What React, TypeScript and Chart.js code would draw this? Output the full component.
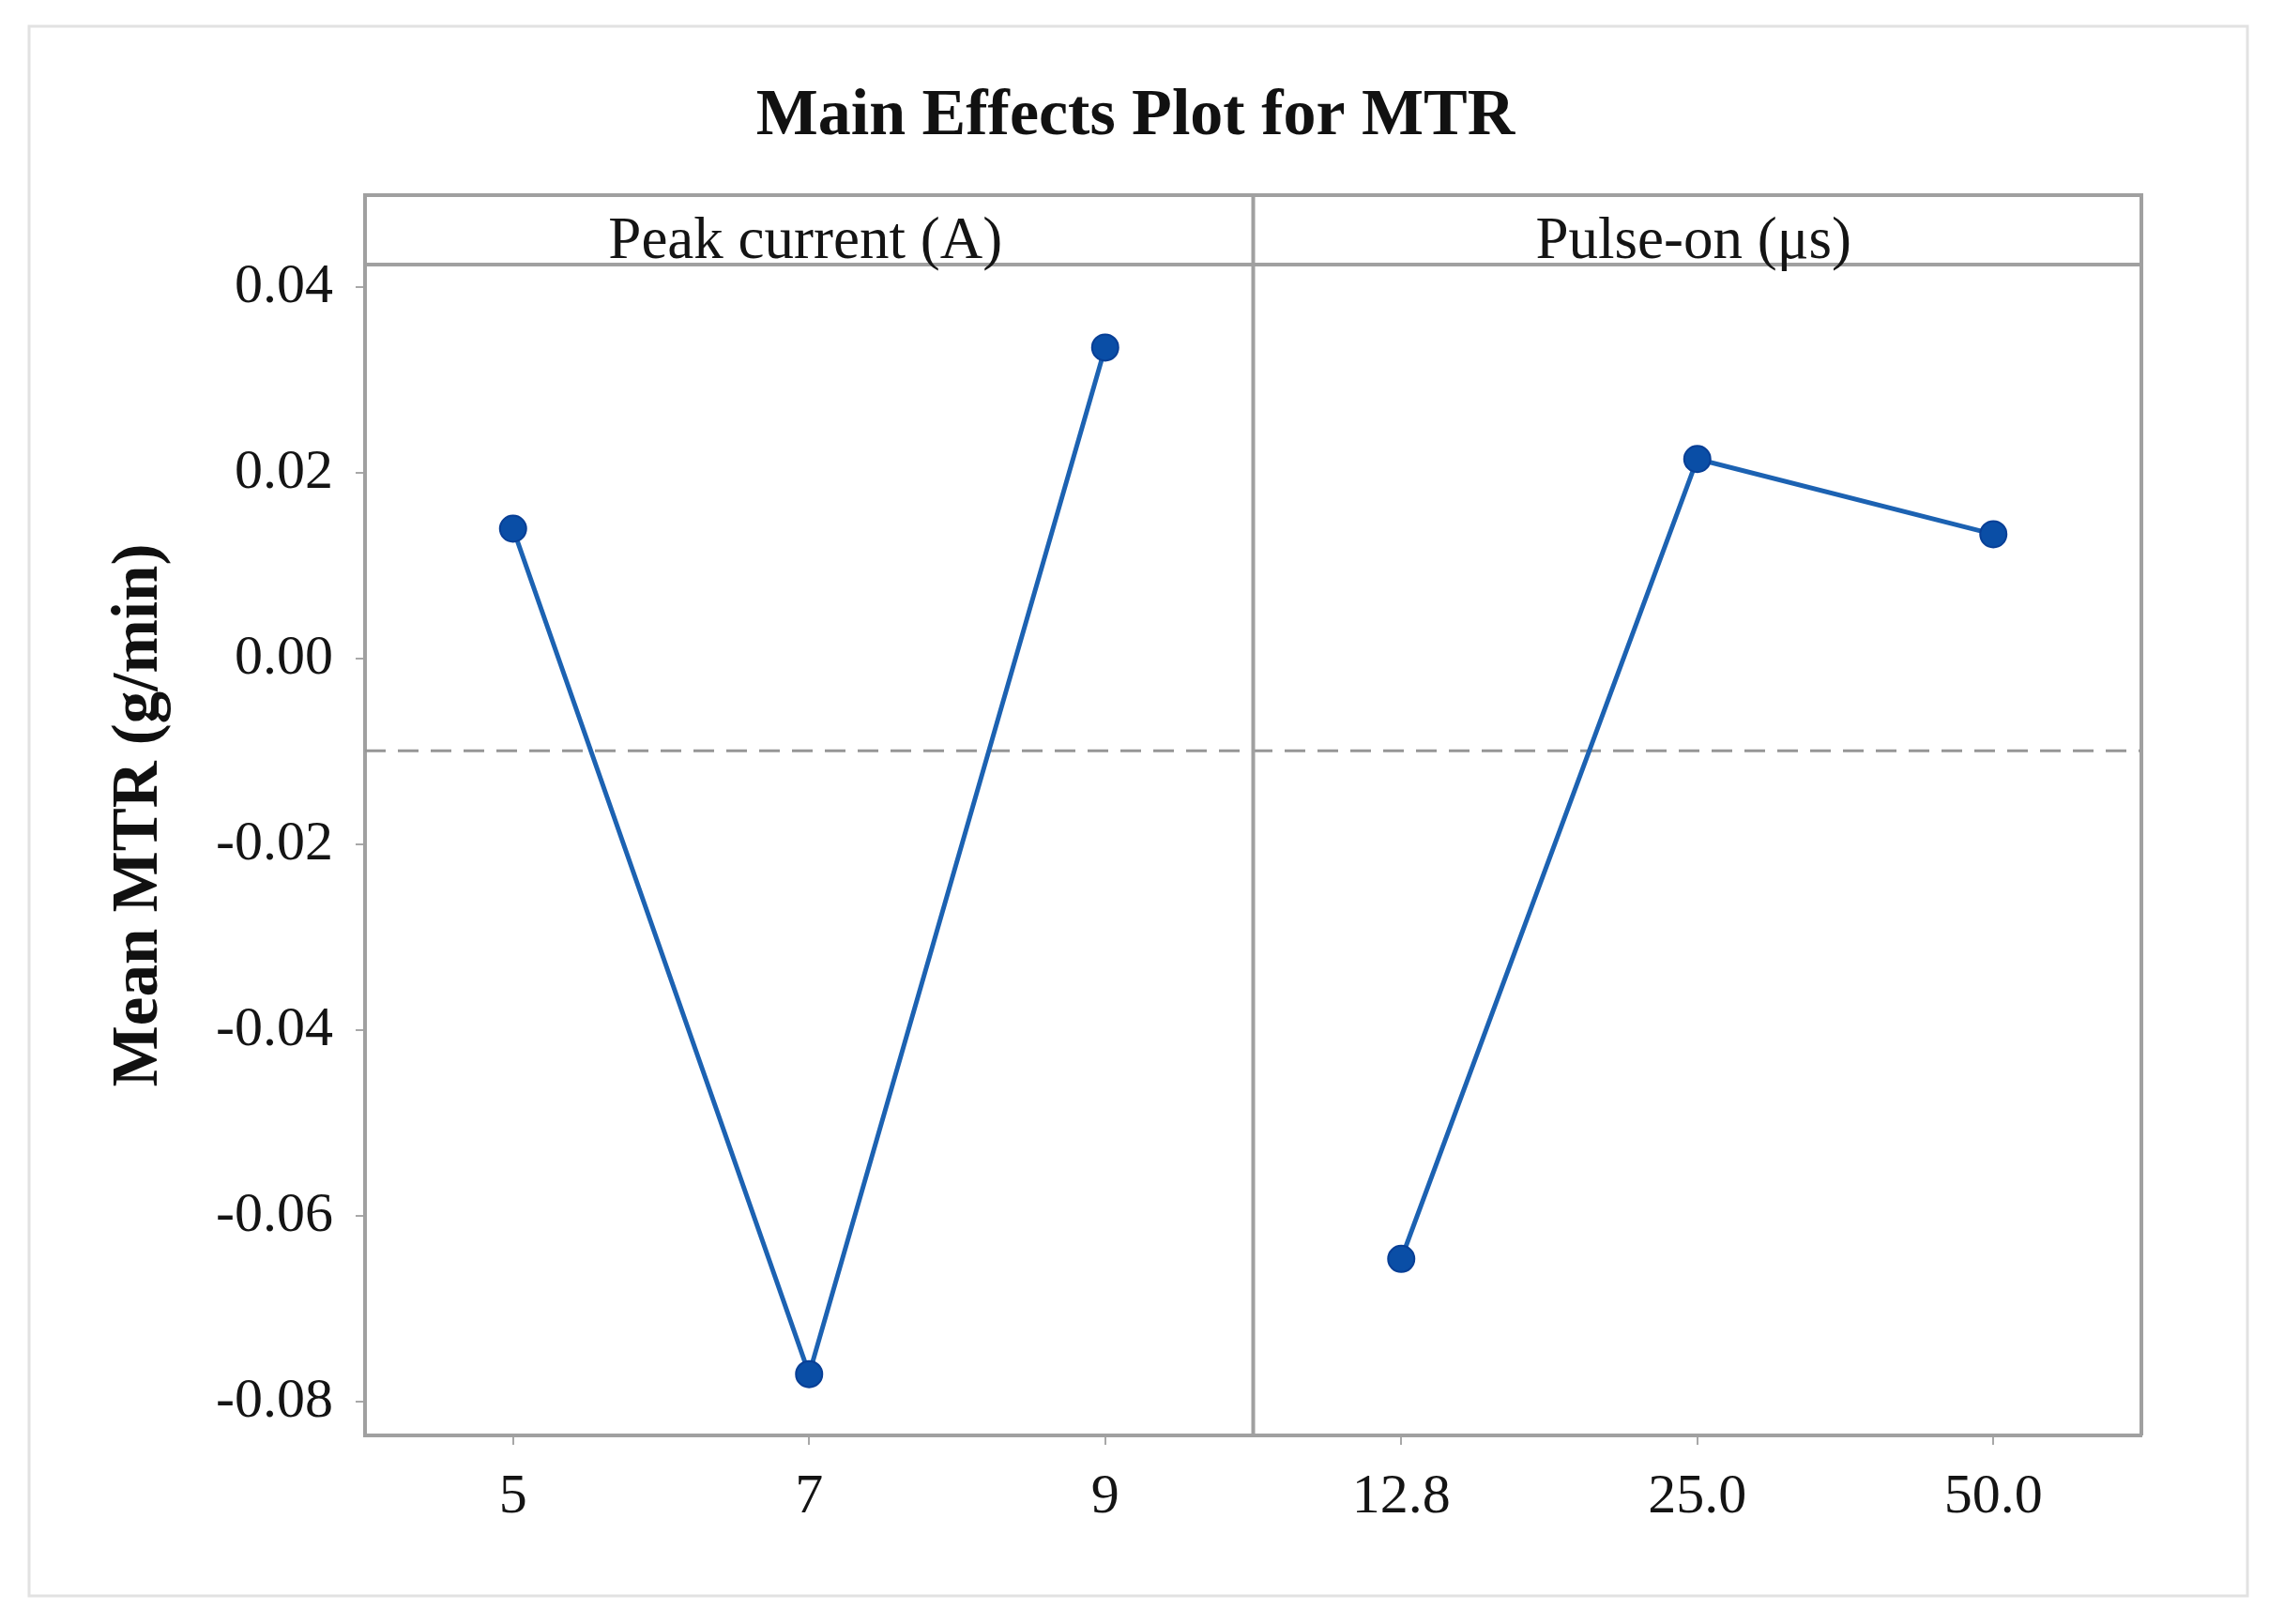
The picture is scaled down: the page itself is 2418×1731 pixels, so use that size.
import React, { useEffect, useRef } from "react";
import { Chart, registerables } from "chart.js";

Chart.register(...registerables);

// ---- data ----
const CATEGORIES = ["5", "7", "9", "12.8", "25.0", "50.0"];
const PEAK_CURRENT_MEANS = [0.014, -0.077, 0.0335, null, null, null];
const PULSE_ON_MEANS = [null, null, null, -0.0646, 0.0215, 0.0134];
const PANEL_LABELS = ["Peak current (A)", "Pulse-on (μs)"];
const PANEL_CENTERS = [1, 4]; // category index at the centre of each panel
const PANEL_DIVIDERS = [2.5]; // category boundary between panels
const GRAND_MEAN = -0.0099;
const Y_MIN = -0.0836;
const Y_MAX = 0.0499;
const Y_STEP = 0.02;
const TITLE = "Main Effects Plot for MTR";
const Y_TITLE = "Mean MTR (g/min)";

const SERIF = '"Liberation Serif", "Times New Roman", serif';
const FRAME = "#a0a0a0";

const panelsPlugin = {
  id: "panels",
  beforeDraw(chart: any) {
    const { ctx, width, height } = chart;
    ctx.save();
    ctx.fillStyle = "#ffffff";
    ctx.fillRect(0, 0, width, height);
    ctx.strokeStyle = "#e2e2e2";
    ctx.lineWidth = 3;
    ctx.strokeRect(31, 28, 2364, 1673);
    ctx.restore();
  },
  beforeDatasetsDraw(chart: any) {
    const { ctx, chartArea } = chart;
    const y = chart.scales.y.getPixelForValue(GRAND_MEAN);
    ctx.save();
    ctx.strokeStyle = "#969696";
    ctx.lineWidth = 3;
    ctx.setLineDash([22, 13]);
    ctx.beginPath();
    ctx.moveTo(chartArea.left, y);
    ctx.lineTo(chartArea.right, y);
    ctx.stroke();
    ctx.restore();
  },
  afterDraw(chart: any) {
    const { ctx, chartArea } = chart;
    const xs = chart.scales.x;
    const stripBottom = chartArea.top + 74;
    ctx.save();
    ctx.strokeStyle = FRAME;
    ctx.lineWidth = 4;
    ctx.beginPath();
    ctx.moveTo(chartArea.left, chartArea.top);
    ctx.lineTo(chartArea.right, chartArea.top);
    ctx.lineTo(chartArea.right, chartArea.bottom);
    ctx.moveTo(chartArea.left, stripBottom);
    ctx.lineTo(chartArea.right, stripBottom);
    PANEL_DIVIDERS.forEach((d) => {
      const x = xs.getPixelForValue(d);
      ctx.moveTo(x, chartArea.top);
      ctx.lineTo(x, chartArea.bottom);
    });
    ctx.stroke();
    ctx.fillStyle = "#141414";
    ctx.font = `63px ${SERIF}`;
    ctx.textAlign = "center";
    ctx.textBaseline = "alphabetic";
    PANEL_LABELS.forEach((label, i) => {
      const x = xs.getPixelForValue(PANEL_CENTERS[i]);
      ctx.fillText(label, x - 4, stripBottom - 7);
    });
    ctx.restore();
  },
};

export default function App() {
  const canvasRef = useRef<HTMLCanvasElement | null>(null);

  useEffect(() => {
    document.body.style.margin = "0";
    const canvas = canvasRef.current;
    if (!canvas) return;
    const lineStyle = {
      borderColor: "#1c62b2",
      borderWidth: 5,
      pointRadius: 14,
      pointHoverRadius: 14,
      pointBackgroundColor: "#0a4ea6",
      pointBorderColor: "#083f96",
      pointBorderWidth: 2,
      tension: 0,
      spanGaps: false,
    };
    const chart = new Chart(canvas, {
      type: "line",
      data: {
        labels: CATEGORIES,
        datasets: [
          { label: PANEL_LABELS[0], data: PEAK_CURRENT_MEANS, ...lineStyle },
          { label: PANEL_LABELS[1], data: PULSE_ON_MEANS, ...lineStyle },
        ],
      },
      options: {
        responsive: false,
        maintainAspectRatio: false,
        devicePixelRatio: 1,
        animation: false,
        layout: { padding: { left: 138, right: 136, top: 0, bottom: 0 } },
        plugins: {
          legend: { display: false },
          tooltip: { enabled: false },
          title: {
            display: true,
            text: TITLE,
            color: "#111111",
            font: { family: SERIF, size: 70, weight: "bold" },
            padding: { top: 83, bottom: 41 },
          },
        },
        scales: {
          x: {
            type: "category",
            offset: true,
            afterFit: (s: any) => {
              s.height = 201;
            },
            grid: {
              offset: false,
              drawOnChartArea: false,
              drawTicks: true,
              tickLength: 10,
              color: "#a8a8a8",
              lineWidth: 2,
            },
            border: { display: true, color: FRAME, width: 4 },
            ticks: {
              color: "#141414",
              font: { family: SERIF, size: 60 },
              padding: 20,
              maxRotation: 0,
              autoSkip: false,
            },
          },
          y: {
            type: "linear",
            min: Y_MIN,
            max: Y_MAX,
            afterFit: (s: any) => {
              s.width = 251;
            },
            grid: {
              drawOnChartArea: false,
              drawTicks: true,
              tickLength: 10,
              color: "#a8a8a8",
              lineWidth: 2,
            },
            border: { display: true, color: FRAME, width: 4 },
            ticks: {
              stepSize: Y_STEP,
              includeBounds: false,
              color: "#141414",
              font: { family: SERIF, size: 60 },
              padding: 24,
              callback: (v: any) => {
                const n = Math.round(Number(v) * 100) / 100;
                return (Math.abs(n) < 1e-9 ? 0 : n).toFixed(2);
              },
            },
            title: {
              display: true,
              text: Y_TITLE,
              color: "#111111",
              font: { family: SERIF, size: 69, weight: "bold" },
              padding: { top: -30, bottom: 0 },
            },
          },
        },
      },
      plugins: [panelsPlugin],
    });
    return () => chart.destroy();
  }, []);

  return (
    <div style={{ width: 2418, height: 1731, position: "relative" }}>
      <canvas ref={canvasRef} width={2418} height={1731} style={{ display: "block" }} />
    </div>
  );
}
